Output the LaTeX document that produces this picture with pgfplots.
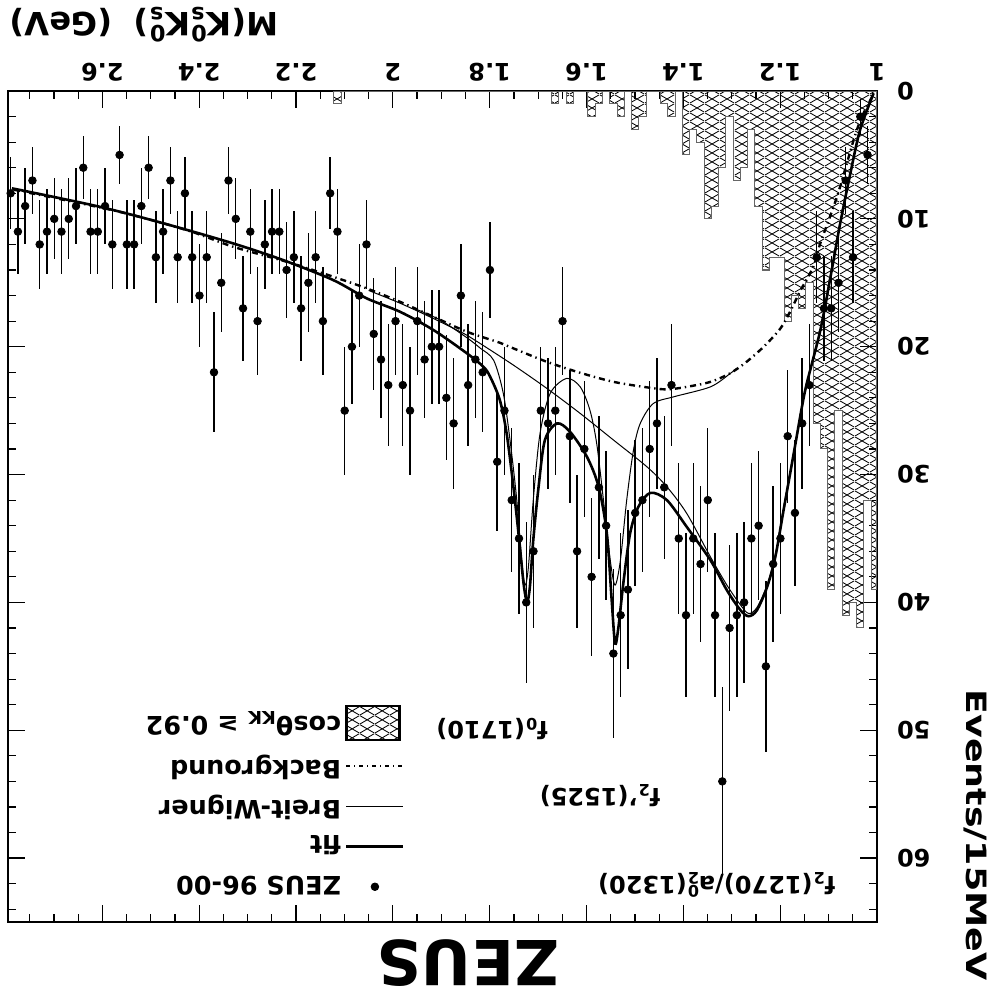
\documentclass[border=0pt]{standalone}
\usepackage{fontspec}
\setmainfont{DejaVu Sans}
\usepackage{pgfplots}
\pgfplotsset{compat=1.18}
\usetikzlibrary{patterns}
\pgfdeclarepatternformonly{diamondmesh}{\pgfqpoint{0pt}{0pt}}{\pgfqpoint{7.5pt}{4.5pt}}{\pgfqpoint{7.5pt}{4.5pt}}{%
  \pgfsetlinewidth{0.45pt}%
  \pgfpathmoveto{\pgfqpoint{0pt}{0pt}}\pgfpathlineto{\pgfqpoint{7.5pt}{4.5pt}}%
  \pgfpathmoveto{\pgfqpoint{0pt}{4.5pt}}\pgfpathlineto{\pgfqpoint{7.5pt}{0pt}}%
  \pgfusepath{stroke}}
\newcommand{\supsub}[2]{\textsuperscript{#1}\llap{\textsubscript{#2}}}
\newcommand{\flip}[1]{\rotatebox[origin=c]{180}{#1}}
\begin{document}
\begin{tikzpicture}
\useasboundingbox (-4pt,-35.5pt) rectangle (494pt,461pt);
\begin{axis}[
  at={(217.25pt,207.75pt)}, anchor=center,
  scale only axis, width=434.5pt, height=415.5pt,
  xmin=1, xmax=2.795, ymin=0, ymax=65,
  x dir=reverse, y dir=reverse,
  clip=false,
  xtick={1,1.2,1.4,1.6,1.8,2,2.2,2.4,2.6},
  minor xtick={1.05,1.1,1.15,1.25,1.3,1.35,1.45,1.5,1.55,1.65,1.7,1.75,1.85,1.9,1.95,2.05,2.1,2.15,2.25,2.3,2.35,2.45,2.5,2.55,2.65,2.7,2.75},
  ytick={0,10,20,30,40,50,60},
  minor ytick={2,4,6,8,12,14,16,18,22,24,26,28,32,34,36,38,42,44,46,48,52,54,56,58,62,64},
  tick align=inside,
  xticklabel pos=upper, yticklabel pos=upper,
  major tick length=8.5pt, minor tick length=4.2pt,
  tick style={black, line width=0.6pt},
  axis line style={line width=1.2pt},
  /pgf/number format/assume math mode=true,
  tick label style={font=\fontsize{12}{12}\selectfont\bfseries},
  xticklabel style={yshift=1.5pt, rotate=180, anchor=north},
  yticklabel style={xshift=6.5pt, rotate=180, anchor=east},
  legend style={at={(axis cs:2.247,55.7)}, anchor=center, draw=none, fill=none,
    font=\fontsize{12.7}{14}\selectfont\bfseries, row sep=5pt},
  legend reversed, legend plot pos=right,
  legend cell align=right,
  legend image code/.code={\draw[mark repeat=2,mark phase=2,#1] plot coordinates {(0cm,0cm) (0.5cm,0cm) (1cm,0cm)};},
]
% histogram cos theta_KK > 0.92
\addplot[const plot, draw=black!60, line width=0.5pt, pattern=diamondmesh, pattern color=black, forget plot] coordinates {
(1.000,39) (1.012,32) (1.027,42) (1.042,40) (1.057,41) (1.072,25) (1.087,39) (1.102,28) (1.117,26) (1.132,15)
(1.147,17) (1.162,16) (1.177,18) (1.192,13) (1.207,13) (1.222,14) (1.237,9) (1.252,3) (1.267,6) (1.282,7)
(1.297,2) (1.312,6) (1.327,9) (1.342,10) (1.357,4) (1.372,3) (1.387,5) (1.402,0) (1.417,2) (1.432,1)
(1.447,0) (1.477,2) (1.492,3) (1.507,0) (1.522,2) (1.537,1) (1.552,0) (1.567,1) (1.582,2) (1.597,0)
(1.627,1) (1.642,0) (1.657,1) (1.672,0) (2.107,1) (2.122,0)
} \closedcycle;
% background
\addplot[smooth, line width=1.2pt, dash pattern=on 3pt off 2pt on 0.7pt off 2pt, forget plot] coordinates {
(1.010,0.45) (1.031,2.0) (1.048,3.8) (1.082,8.2) (1.117,11.9) (1.131,13.7) (1.158,15.6) (1.180,17.3) (1.200,18.6)
(1.234,20.0) (1.270,21.2) (1.303,22.07) (1.344,22.75) (1.393,23.14) (1.434,23.34) (1.475,23.18) (1.544,22.75)
(1.613,22.04) (1.682,21.18) (1.751,20.13) (1.779,19.69) (1.847,18.83) (1.916,17.66) (1.985,16.49) (2.054,15.44)
(2.123,14.53) (2.219,13.36) (2.330,12.18) (2.426,10.88) (2.571,9.39) (2.787,7.69)
};
% Breit-Wigner (thin) A
\addplot[smooth, line width=0.5pt, forget plot] coordinates {
(1.290,21.7) (1.303,22.09) (1.344,23.14) (1.420,23.92) (1.462,24.44) (1.489,26.0) (1.503,28.09) (1.517,32.0)
(1.530,36.70) (1.541,38.65) (1.551,36.70) (1.565,32.0) (1.579,27.57) (1.593,24.96) (1.613,23.14) (1.641,22.48)
(1.675,23.65) (1.696,26.78) (1.710,32.0) (1.720,37.22) (1.727,38.65) (1.734,36.70) (1.744,32.0) (1.758,27.31)
(1.772,23.63) (1.792,21.05) (1.820,20.1) (1.847,19.3) (1.902,17.92) (1.950,17.1)
};
% Breit-Wigner (thin) B
\addplot[smooth, line width=0.5pt, forget plot] coordinates {
(1.007,0.18) (1.035,3.05) (1.055,6.44) (1.076,10.35) (1.096,14.53) (1.117,18.70) (1.145,22.87) (1.155,24.6)
(1.172,28.25) (1.193,32.6) (1.210,36.3) (1.227,38.65) (1.248,40.4) (1.265,40.87) (1.282,40.2) (1.310,38.65)
(1.344,36.44) (1.393,33.04) (1.434,30.96) (1.475,29.40) (1.544,27.31) (1.613,25.22) (1.682,23.26) (1.751,21.44)
(1.820,19.74) (1.847,19.1) (1.916,17.8) (1.985,16.6) (2.050,15.6)
};
% fit (thick)
\addplot[smooth, line width=1.3pt, forget plot] coordinates {
(1.007,0.18) (1.035,3.05) (1.055,6.44) (1.076,10.35) (1.096,14.53) (1.117,18.70) (1.145,22.87) (1.155,24.70)
(1.172,28.35) (1.193,32.79) (1.210,36.44) (1.227,38.79) (1.248,40.61) (1.265,41.08) (1.282,40.61) (1.310,39.05)
(1.344,36.70) (1.393,34.09) (1.434,32.0) (1.468,31.43) (1.493,32.53) (1.510,34.61) (1.524,38.52) (1.534,41.92)
(1.541,43.22) (1.548,39.83) (1.558,34.61) (1.575,30.96) (1.599,28.62) (1.634,26.66) (1.661,26.0) (1.686,27.31)
(1.699,30.96) (1.710,35.13) (1.717,38.79) (1.723,39.96) (1.730,38.52) (1.739,35.13) (1.751,30.96) (1.765,26.78)
(1.779,24.18) (1.799,22.35) (1.813,21.57) (1.847,20.52) (1.916,18.70) (1.985,17.27) (2.054,16.22) (2.123,14.79)
(2.227,13.22) (2.330,11.92) (2.468,10.41) (2.606,9.05) (2.787,7.61)
};
% data ZEUS 96-00
\addplot[only marks, mark=*, mark size=1.9pt, black, forget plot,
  error bars/.cd, y dir=both, y explicit, error mark=none, error bar style={line width=0.7pt}]
  table[x=x, y=y, y error=e] {
x y e
1.0195 5 2.24
1.0345 2 1.41
1.0495 13 3.61
1.0645 7 2.65
1.0795 15 3.87
1.0945 17 4.12
1.1095 17 4.12
1.1245 13 3.61
1.1395 23 4.80
1.1545 26 5.10
1.1695 33 5.74
1.1845 27 5.20
1.1995 35 5.92
1.2145 37 6.08
1.2295 45 6.71
1.2445 34 5.83
1.2595 35 5.92
1.2745 40 6.32
1.2895 41 6.40
1.3045 42 6.48
1.3195 54 7.35
1.3345 41 6.40
1.3495 32 5.66
1.3645 37 6.08
1.3795 35 5.92
1.3945 41 6.40
1.4095 35 5.92
1.4245 23 4.80
1.4395 31 5.57
1.4545 26 5.10
1.4695 28 5.29
1.4845 32 5.66
1.4995 33 5.74
1.5145 39 6.24
1.5295 41 6.40
1.5445 44 6.63
1.5595 34 5.83
1.5745 31 5.57
1.5895 38 6.16
1.6045 28 5.29
1.6195 36 6.00
1.6345 27 5.20
1.6495 18 4.24
1.6645 25 5.00
1.6795 26 5.10
1.6945 25 5.00
1.7095 36 6.00
1.7245 40 6.32
1.7395 35 5.92
1.7545 32 5.66
1.7695 25 5.00
1.7845 29 5.39
1.7995 14 3.74
1.8145 22 4.69
1.8295 21 4.58
1.8445 23 4.80
1.8595 16 4.00
1.8745 26 5.10
1.8895 24 4.90
1.9045 20 4.47
1.9195 20 4.47
1.9345 21 4.58
1.9495 18 4.24
1.9645 25 5.00
1.9795 23 4.80
1.9945 18 4.24
2.0095 23 4.80
2.0245 21 4.58
2.0395 19 4.36
2.0545 12 3.46
2.0695 16 4.00
2.0845 20 4.47
2.0995 25 5.00
2.1145 11 3.32
2.1295 8 2.83
2.1445 18 4.24
2.1595 13 3.61
2.1745 15 3.87
2.1895 17 4.12
2.2045 13 3.61
2.2195 14 3.74
2.2345 11 3.32
2.2495 11 3.32
2.2645 12 3.46
2.2795 18 4.24
2.2945 11 3.32
2.3095 17 4.12
2.3245 10 3.16
2.3395 7 2.65
2.3545 15 3.87
2.3695 22 4.69
2.3845 13 3.61
2.3995 16 4.00
2.4145 13 3.61
2.4295 8 2.83
2.4445 13 3.61
2.4595 7 2.65
2.4745 11 3.32
2.4895 13 3.61
2.5045 6 2.45
2.5195 9 3.00
2.5345 12 3.46
2.5495 12 3.46
2.5645 5 2.24
2.5795 12 3.46
2.5945 9 3.00
2.6095 11 3.32
2.6245 11 3.32
2.6395 6 2.45
2.6545 9 3.00
2.6695 10 3.16
2.6845 11 3.32
2.6995 10 3.16
2.7145 11 3.32
2.7295 12 3.46
2.7445 7 2.65
2.7595 9 3.00
2.7745 11 3.32
2.7895 8 2.83
};
% legend
\addlegendimage{only marks, mark=*, mark size=1.9pt, black}
\addlegendentry{\flip{ZEUS 96-00}}
\addlegendimage{line width=1.4pt, black}
\addlegendentry{\flip{fit}}
\addlegendimage{line width=0.6pt, black}
\addlegendentry{\flip{Breit-Wigner}}
\addlegendimage{line width=0.8pt, black, dash pattern=on 2pt off 2pt on 0.5pt off 2pt}
\addlegendentry{\flip{Background}}
\addlegendimage{legend image code/.code={\draw[pattern=diamondmesh, pattern color=black, line width=1.2pt] (0pt,-8.5pt) rectangle (26.5pt,8.5pt);}}
\addlegendentry{\flip{cosθ\textsubscript{KK} ≥ 0.92}}
% texts
\node[rotate=180, anchor=east, inner sep=0pt, font=\fontsize{16}{16}\selectfont\bfseries] at (axis cs:2.7916,-5.2) {M(K\supsub{0}{s}K\supsub{0}{s})\ \ (GeV)};
\node[rotate=-90, xscale=1.3, font=\fontsize{14}{14}\selectfont\bfseries] at (axis cs:0.797,58.2) {Events/15MeV};
\node[rotate=180, font=\fontsize{31}{31}\selectfont\bfseries] at (axis cs:1.845,68.2) {ZEUS};
\node[rotate=180, font=\fontsize{12}{12}\selectfont\bfseries] at (axis cs:1.331,62.1) {f\textsubscript{2}(1270)/a\supsub{0}{2}(1320)};
\node[rotate=180, font=\fontsize{12}{12}\selectfont\bfseries] at (axis cs:1.572,55.1) {f\textsubscript{2}'(1525)};
\node[rotate=180, font=\fontsize{12}{12}\selectfont\bfseries] at (axis cs:1.795,49.9) {f\textsubscript{0}(1710)};
\end{axis}
\end{tikzpicture}
\end{document}
